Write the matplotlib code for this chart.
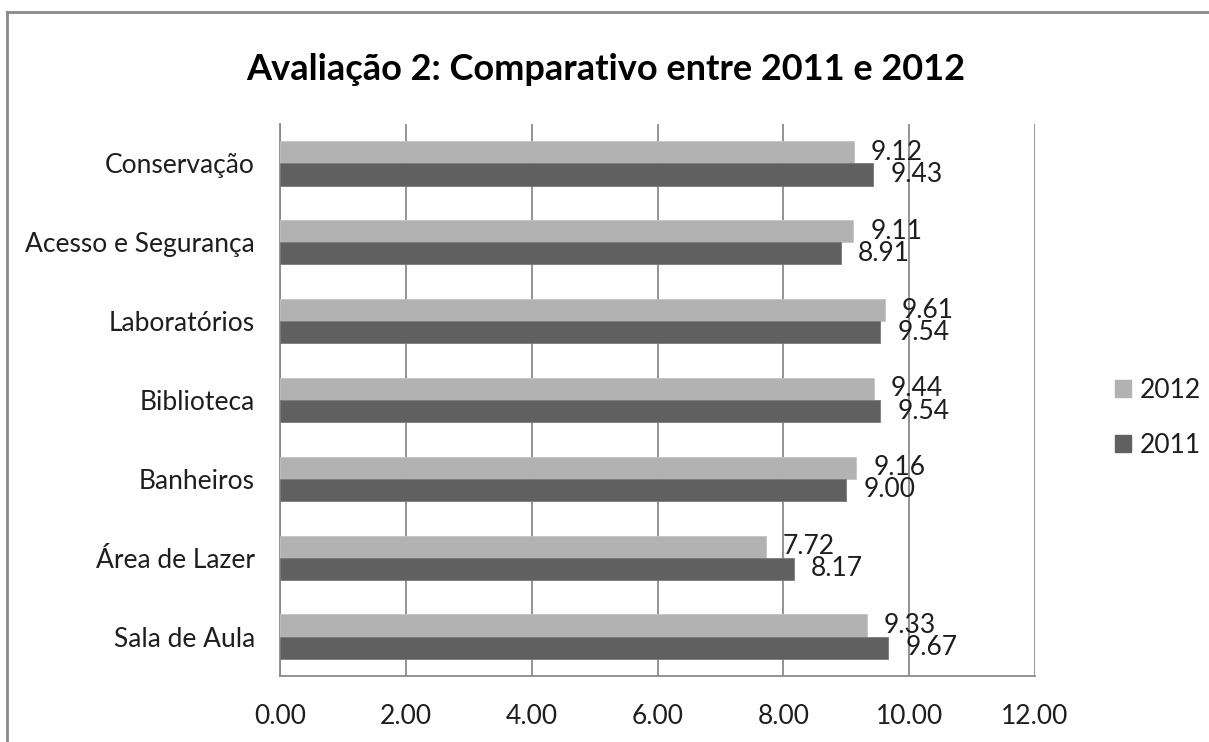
import matplotlib
matplotlib.use("Agg")
import matplotlib.pyplot as plt
from matplotlib.lines import Line2D
import numpy as np

categories = ["Sala de Aula", "Área de Lazer", "Banheiros", "Biblioteca",
              "Laboratórios", "Acesso e Segurança", "Conservação"]
values_2012 = [9.33, 7.72, 9.16, 9.44, 9.61, 9.11, 9.12]
values_2011 = [9.67, 8.17, 9.00, 9.54, 9.54, 8.91, 9.43]
series_names = ["2012", "2011"]
xticks = [0, 2, 4, 6, 8, 10, 12]
title = "Avaliação 2: Comparativo entre 2011 e 2012"

plt.rcParams['font.family'] = ['Lato', 'DejaVu Sans']
txt_color = "#1e1e1e"
c2012 = "#b2b2b2"
c2011 = "#606060"
grid_c = "#8a8a8a"

fig = plt.figure(figsize=(12.09, 7.42), dpi=100)
ax = fig.add_axes([280/1209, 1-676/742, (1035-280)/1209, (676-124)/742])

y = np.arange(len(categories))
h = 0.28
b1 = ax.barh(y + h/2, values_2012, height=h, color=c2012, edgecolor="#c4c4c4", linewidth=0.6, label=series_names[0], zorder=3)
b2 = ax.barh(y - h/2, values_2011, height=h, color=c2011, edgecolor="#7a7a7a", linewidth=0.6, label=series_names[1], zorder=3)

for bars, vals in ((b1, values_2012), (b2, values_2011)):
    for rect, v in zip(bars, vals):
        ax.annotate(f"{v:.2f}", xy=(v, rect.get_y() + rect.get_height()/2),
                    xytext=(17, 0), textcoords="offset pixels",
                    ha="left", va="center", fontsize=19, color=txt_color, zorder=4)

ax.set_xlim(0, 12)
ax.set_ylim(-0.5, len(categories) - 0.5)
ax.set_xticks(xticks)
ax.set_xticklabels([f"{t:.2f}" for t in xticks], fontsize=19, color=txt_color)
ax.set_yticks(y)
ax.set_yticklabels(categories, fontsize=19, color=txt_color)
ax.tick_params(axis="y", length=0, pad=18)
ax.tick_params(axis="x", length=0, pad=20)
ax.xaxis.grid(True, color=grid_c, linewidth=1.3, zorder=0)
ax.set_axisbelow(True)
for s in ("top", "right"):
    ax.spines[s].set_visible(False)
for s in ("left", "bottom"):
    ax.spines[s].set_color(grid_c)
    ax.spines[s].set_linewidth(1.3)

fig.text(606/1209, 1-69/742, title, ha="center", va="center", fontsize=26,
         fontweight="bold", color="#000000")

# legend
handles = [plt.Rectangle((0, 0), 1, 1, color=c2012), plt.Rectangle((0, 0), 1, 1, color=c2011)]
fig.legend(handles, series_names, loc="center left", bbox_to_anchor=(1115/1209, 1-418/742),
           frameon=False, fontsize=19, handlelength=0.6, handleheight=0.6,
           handletextpad=0.35, labelspacing=1.15, labelcolor=txt_color,
           borderpad=0, borderaxespad=0)

# outer chart border (left and top visible)
fig.add_artist(Line2D([7/1209, 7/1209], [0, 1-12/742], transform=fig.transFigure, color="#8a8a8a", linewidth=2))
fig.add_artist(Line2D([7/1209, 1], [1-12/742, 1-12/742], transform=fig.transFigure, color="#8a8a8a", linewidth=2))

fig.savefig("out.png", dpi=100)
